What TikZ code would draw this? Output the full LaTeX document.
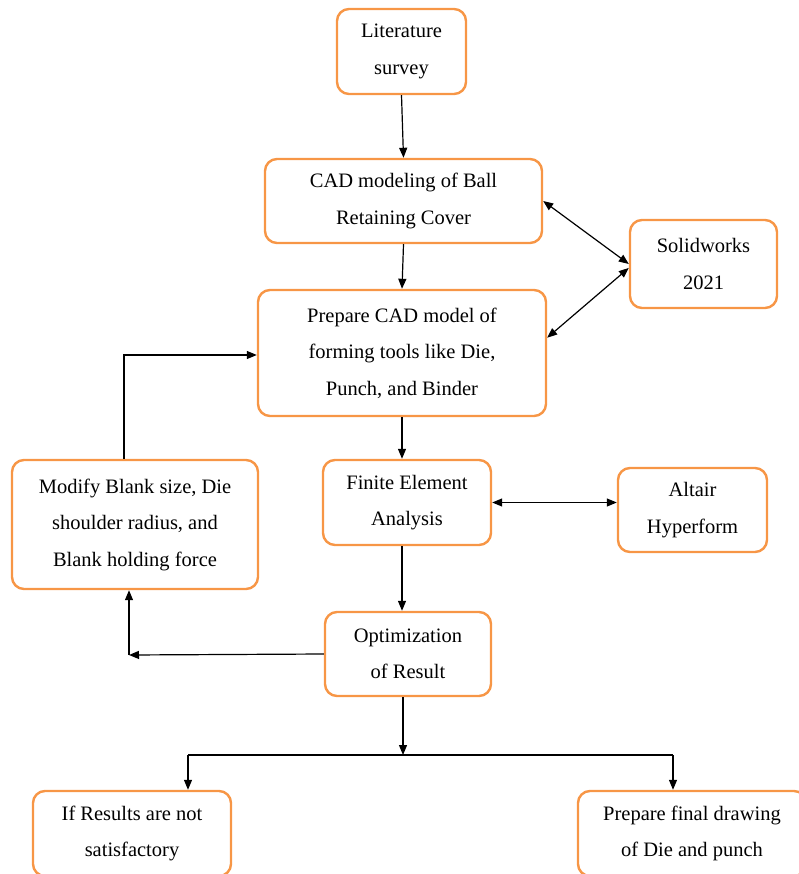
\documentclass[tikz,border=0pt]{standalone}
\usepackage{fontspec}
\setmainfont{Liberation Serif}
\usepackage{xcolor}
\usepackage{tikz}
\usetikzlibrary{arrows.meta}

\definecolor{boxorange}{RGB}{247,150,70}

\begin{document}
\begin{tikzpicture}[x=1pt, y=-1pt,
            stage/.style={shape=rectangle, draw=boxorange, line width=2.4pt, rounded corners=12pt,
                align=center, inner sep=0pt, font=\fontsize{20.5}{36.5}\selectfont},
            arr/.style={line width=1.2pt, -{Triangle[length=10pt,width=8pt]}},
            darr/.style={line width=1.2pt, {Triangle[length=10pt,width=8pt]}-{Triangle[length=10pt,width=8pt]}}]
            \useasboundingbox (0,0) rectangle (798,874);

            \node[stage, minimum width=129, minimum height=85] (lit) at (401.5, 51.5) {Literature\\survey};
            \node[stage, minimum width=277, minimum height=84] (cad) at (403.5, 201) {CAD modeling of Ball\\Retaining Cover};
            \node[stage, minimum width=147, minimum height=88] (solid) at (703.5, 264) {Solidworks\\2021};
            \node[stage, minimum width=288, minimum height=126] (tools) at (402, 353) {Prepare CAD model of\\forming tools like Die,\\Punch, and Binder};
            \node[stage, minimum width=246, minimum height=129] (modify) at (135, 524.5) {Modify Blank size, Die\\shoulder radius, and\\Blank holding force};
            \node[stage, minimum width=168, minimum height=85] (fea) at (407, 502.5) {Finite Element\\Analysis};
            \node[stage, minimum width=149, minimum height=84] (altair) at (692.5, 510) {Altair\\Hyperform};
            \node[stage, minimum width=166, minimum height=84] (optim) at (408, 654) {Optimization\\of Result};
            \node[stage, minimum width=198, minimum height=85] (notok) at (132, 833.5) {If Results are not\\satisfactory};
            \node[stage, minimum width=228, minimum height=85] (final) at (692, 833.5) {Prepare final drawing\\of Die and punch};

            \coordinate (back) at (129, 655);
            \coordinate (split) at (403, 755);
            \coordinate (lsplit) at (188, 755);
            \coordinate (rsplit) at (673, 755);

            \draw[arr] (lit.south) -- (cad.north);
            \draw[arr] (cad.south) -- (tools.north);
            \draw[darr] (cad.east) -- (solid.west);
            \draw[darr] (tools.6) -- (solid.183);
            \draw[arr] (tools.south) -- (tools.south |- fea.north);
            \draw[darr] (fea.east) -- (fea.east -| altair.west);
            \draw[arr] (tools.south |- fea.south) -- (tools.south |- optim.north);

            \draw[arr] ([xshift=-11pt]modify.north) |- ([yshift=-2pt]tools.west);
            \draw[arr] (optim.west) -- (back);
            \draw[arr] (back) -- (back |- modify.south);

            \draw[arr] (split |- optim.south) -- (split);
            \draw[line width=1.2pt] (lsplit) -- (rsplit);
            \draw[arr] (lsplit) -- (lsplit |- notok.north);
            \draw[arr] (rsplit) -- (rsplit |- final.north);
\end{tikzpicture}
\end{document}
